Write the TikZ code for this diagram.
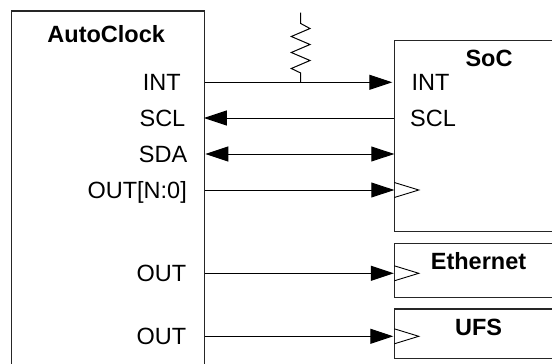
\documentclass[tikz,border=0pt]{standalone}
\usepackage{fontspec}
\setmainfont{Liberation Sans}
\usetikzlibrary{arrows.meta}
\tikzset{
  x=1pt,y=-1pt,
  box/.style={draw=black!85,line width=1.2pt,fill=white,minimum width=#1,inner sep=0pt,outer sep=0pt,rectangle},
  lbl/.style={font=\fontsize{23.5}{23.5}\selectfont,inner sep=0pt,text height=16.8pt,text depth=0pt},
  ttl/.style={lbl,font=\fontsize{23.5}{23.5}\selectfont\bfseries},
  wire/.style={line width=1pt,draw=black},
  sig/.style={wire,-{Triangle[length=23pt,width=15pt]}},
  sigback/.style={wire,{Triangle[length=23pt,width=15pt]}-},
  sigboth/.style={wire,{Triangle[length=23pt,width=15pt]}-{Triangle[length=23pt,width=15pt]}},
  clk/.style={line width=.9pt,draw=black,line join=miter}
}
\begin{document}
\begin{tikzpicture}
\useasboundingbox (0,0) rectangle (552,364);
\clip (0,0) rectangle (552,364);
% blocks
\node[box=193pt,minimum height=369pt,anchor=north west] (auto) at (11.5,11) {};
\node[box=170pt,minimum height=190.5pt,anchor=north west] (soc) at (394.3,40.7) {};
\node[box=170pt,minimum height=54pt,anchor=north west] (eth) at (394.3,243.7) {};
\node[box=170pt,minimum height=49.5pt,anchor=north west] (ufs) at (394.3,309) {};
% titles
\node[ttl] (tauto) at (106.2,34) {AutoClock};
\node[ttl] (tsoc) at (489,58) {SoC};
\node[ttl] (teth) at (478.5,261) {Ethernet};
\node[ttl] (tufs) at (478.6,326.7) {UFS};
% pin labels
\node[lbl,anchor=east] (aint) at (181,82) {INT};
\node[lbl,anchor=east] (ascl) at (185.5,118) {SCL};
\node[lbl,anchor=east] (asda) at (187.5,154) {SDA};
\node[lbl,anchor=east] (aout) at (187,190) {OUT[N:0]};
\node[lbl,anchor=east] (aoa) at (186.5,272.7) {OUT};
\node[lbl,anchor=east] (aob) at (186.5,335.7) {OUT};
\node[lbl,anchor=west] (sint) at (411.5,82) {INT};
\node[lbl,anchor=west] (sscl) at (410,118) {SCL};
% connector ends
\coordinate (yint) at (300,82.3);
\coordinate (yscl) at (300,118);
\coordinate (ysda) at (300,154);
\coordinate (yout) at (300,190);
\coordinate (yoa) at (300,273.3);
\coordinate (yob) at (300,336.3);
\coordinate (rtop) at (300.7,12.7);
\coordinate (rbot) at (300.7,82.3);
% connectors
\draw[sig] (auto.east |- yint) -- ([xshift=-2pt]soc.west |- yint);
\draw[sigback] ([xshift=-.6pt]auto.east |- yscl) -- (soc.west |- yscl);
\draw[sigboth] ([xshift=.8pt]auto.east |- ysda) -- (soc.west |- ysda);
\draw[sig] (auto.east |- yout) -- (soc.west |- yout);
\draw[sig] (auto.east |- yoa) -- ([xshift=-.5pt]eth.west |- yoa);
\draw[sig] (auto.east |- yob) -- ([xshift=-1pt]ufs.west |- yob);
% resistor
\draw[wire,line join=miter] (rtop) -- (300.7,23.5) -- (310,28.5) -- (291.3,36.5) -- (310,44.5) -- (291.3,52.5) -- (310,60.5) -- (291.3,68.5) -- (300.7,73) -- (rbot);
% clock marks
\draw[clk] (soc.west |- yout) ++(0,-7.5) -- ++(24.5,7.5) -- ++(-24.5,7.5);
\draw[clk] (eth.west |- yoa) ++(0,-7.5) -- ++(24.5,7.5) -- ++(-24.5,7.5);
\draw[clk] (ufs.west |- yob) ++(0,-7.5) -- ++(24.5,7.5) -- ++(-24.5,7.5);
\end{tikzpicture}
\end{document}
